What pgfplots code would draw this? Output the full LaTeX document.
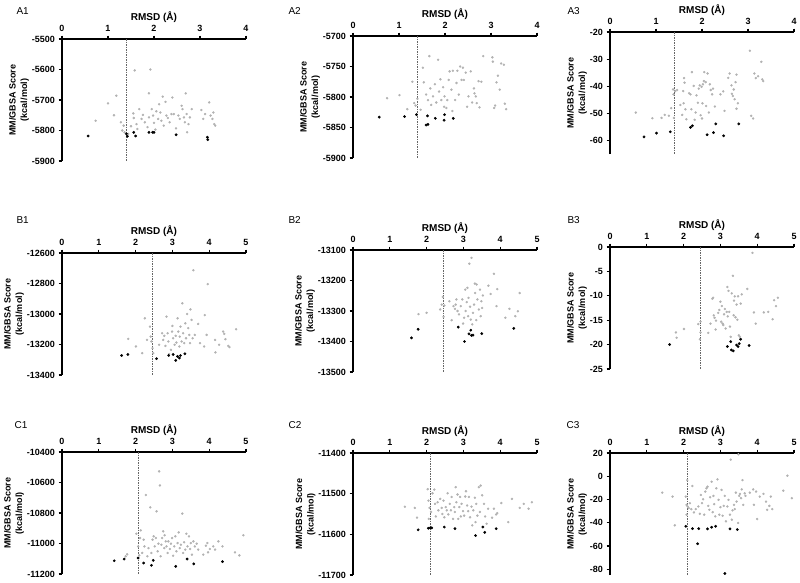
\documentclass[border=0pt]{standalone}
\usepackage{pgfplots}
\pgfplotsset{compat=1.18}
\usepackage{fontspec}
\setmainfont{Liberation Sans}
\pgfplotsset{
  panel/.style={
    scale only axis, width=184pt, height=122pt,
    anchor=north west,
    axis x line*=top, axis y line*=left,
    axis line style={line width=1.2pt, black},
    tick align=outside, major tick length=3.5pt,
    major tick style={line width=1.1pt, black},
    ticklabel style={font=\bfseries\fontsize{9}{10}\selectfont},
    /pgf/number format/assume math mode=true,
    /pgf/number format/1000 sep={},
    scaled ticks=false,
    xmin=0,
    xlabel={RMSD (Å)},
    ylabel={MM/GBSA Score\\(kcal/mol)},
    every axis x label/.style={at={(axis description cs:0.5,1)}, anchor=base, yshift=19pt, font=\bfseries\fontsize{10}{12}\selectfont},
    ylabel style={align=center, font=\bfseries\fontsize{9}{11.5}\selectfont, yshift=-4pt},
    clip=false,
  },
  gp/.style={only marks, mark=*, mark size=1pt, color=black!30},
  bp/.style={only marks, mark=*, mark size=1.2pt, color=black},
  refl/.style={dash pattern=on 1.5pt off 1pt, color=black!60, line width=0.5pt, no marks},
}
\begin{document}
\begin{tikzpicture}
\useasboundingbox (0,0) rectangle (800pt,-582pt);
\tikzset{lab/.style={anchor=west, font=\fontsize{10}{12}\selectfont}}
\node[lab] at (13pt,-11pt) {A1};
\node[lab] at (285pt,-11pt) {A2};
\node[lab] at (564pt,-11pt) {A3};
\node[lab] at (13pt,-220pt) {B1};
\node[lab] at (285pt,-220pt) {B2};
\node[lab] at (564pt,-220pt) {B3};
\node[lab] at (11pt,-425pt) {C1};
\node[lab] at (285pt,-425pt) {C2};
\node[lab] at (563pt,-425pt) {C3};

% A1
\begin{axis}[panel, at={(62pt,-39pt)}, xmax=4, xtick={0,1,2,3,4}, ymin=-5900, ymax=-5500, ytick={-5900,-5800,-5700,-5600,-5500}]
\addplot[refl] coordinates {(1.4,-5500) (1.4,-5900)};
\addplot[gp] coordinates {(0.73,-5768) (1.00,-5711) (1.13,-5750) (1.18,-5686) (1.28,-5773) (1.34,-5784) (1.31,-5800) (1.36,-5806) (1.44,-5811) (1.50,-5786) (1.55,-5744) (1.56,-5759) (1.58,-5603) (1.62,-5779) (1.64,-5795) (1.68,-5730) (1.73,-5762) (1.76,-5749) (1.80,-5773) (1.86,-5789) (1.89,-5678) (1.92,-5600) (1.89,-5757) (1.95,-5730) (1.98,-5751) (2.00,-5775) (2.03,-5797) (2.05,-5737) (2.09,-5762) (2.11,-5714) (2.14,-5741) (2.16,-5768) (2.19,-5689) (2.21,-5784) (2.25,-5706) (2.27,-5751) (2.30,-5759) (2.34,-5773) (2.38,-5746) (2.40,-5692) (2.43,-5746) (2.48,-5793) (2.53,-5751) (2.56,-5762) (2.60,-5719) (2.62,-5730) (2.65,-5757) (2.67,-5773) (2.69,-5678) (2.71,-5746) (2.72,-5806) (2.75,-5779) (2.78,-5757) (2.82,-5730) (3.03,-5733) (3.07,-5762) (3.11,-5746) (3.20,-5708) (3.23,-5751) (3.27,-5762) (3.29,-5741) (3.31,-5779) (3.33,-5784)};
\addplot[bp] coordinates {(0.57,-5818) (1.40,-5811) (1.42,-5819) (1.56,-5806) (1.60,-5818) (1.89,-5806) (1.97,-5806) (2.00,-5806) (2.48,-5814) (3.16,-5822) (3.17,-5830)};
\end{axis}

% A2
\begin{axis}[panel, at={(353pt,-36pt)}, xmax=4, xtick={0,1,2,3,4}, ymin=-5900, ymax=-5700, ytick={-5900,-5850,-5800,-5750,-5700}]
\addplot[refl] coordinates {(1.4,-5700) (1.4,-5900)};
\addplot[gp] coordinates {(0.74,-5802) (1.01,-5797) (1.18,-5820) (1.29,-5775) (1.33,-5810) (1.36,-5814) (1.40,-5803) (1.47,-5821) (1.52,-5752) (1.54,-5776) (1.59,-5796) (1.63,-5805) (1.66,-5733) (1.68,-5786) (1.70,-5813) (1.74,-5799) (1.78,-5779) (1.81,-5809) (1.85,-5739) (1.87,-5791) (1.90,-5771) (1.92,-5805) (1.96,-5784) (1.98,-5816) (1.99,-5799) (2.03,-5818) (2.05,-5805) (2.08,-5772) (2.10,-5758) (2.14,-5788) (2.16,-5823) (2.17,-5757) (2.22,-5805) (2.25,-5777) (2.27,-5757) (2.30,-5796) (2.33,-5750) (2.36,-5772) (2.39,-5752) (2.41,-5772) (2.45,-5760) (2.48,-5816) (2.51,-5799) (2.56,-5758) (2.59,-5809) (2.63,-5786) (2.64,-5794) (2.67,-5799) (2.69,-5810) (2.73,-5774) (2.75,-5817) (2.79,-5775) (2.83,-5733) (3.03,-5735) (3.04,-5742) (3.07,-5818) (3.09,-5814) (3.12,-5776) (3.15,-5765) (3.19,-5788) (3.22,-5745) (3.28,-5747) (3.30,-5811) (3.33,-5820)};
\addplot[bp] coordinates {(0.57,-5833) (1.12,-5832) (1.38,-5829) (1.62,-5831) (1.59,-5846) (1.63,-5845) (1.79,-5835) (1.98,-5838) (1.99,-5829) (2.18,-5835)};
\end{axis}

% A3
\begin{axis}[panel, at={(610pt,-32pt)}, xmax=4, xtick={0,1,2,3,4}, ymin=-65, ymax=-20, ytick={-60,-50,-40,-30,-20}]
\addplot[refl] coordinates {(1.4,-20) (1.4,-65)};
\addplot[gp] coordinates {(0.56,-49.7) (0.92,-51.8) (1.12,-51.7) (1.19,-50.6) (1.28,-50.9) (1.33,-48.1) (1.37,-41.2) (1.38,-43.0) (1.42,-41.8) (1.39,-51.7) (1.46,-41.4) (1.53,-46.9) (1.57,-50.6) (1.59,-41.8) (1.61,-37.0) (1.62,-38.7) (1.60,-46.3) (1.64,-48.5) (1.66,-52.2) (1.72,-42.6) (1.75,-43.0) (1.78,-34.8) (1.77,-48.5) (1.82,-39.9) (1.84,-52.4) (1.86,-49.7) (1.88,-43.4) (1.91,-46.1) (1.93,-40.9) (1.95,-39.7) (1.97,-50.7) (1.99,-40.2) (2.00,-51.9) (2.01,-46.3) (2.02,-39.3) (2.04,-38.1) (2.05,-34.8) (2.08,-38.5) (2.09,-47.3) (2.12,-35.3) (2.15,-49.7) (2.17,-39.3) (2.19,-41.4) (2.22,-43.0) (2.24,-40.9) (2.28,-47.5) (2.40,-43.0) (2.46,-41.9) (2.49,-49.1) (2.57,-36.9) (2.60,-35.3) (2.64,-39.7) (2.65,-42.8) (2.67,-43.6) (2.69,-41.2) (2.71,-44.8) (2.73,-38.5) (2.75,-48.3) (2.75,-35.7) (2.78,-46.3) (3.04,-26.9) (3.07,-50.9) (3.11,-51.9) (3.14,-35.3) (3.17,-37.0) (3.22,-36.3) (3.29,-31.0) (3.31,-37.5) (3.33,-38.1)};
\addplot[bp] coordinates {(0.74,-58.7) (1.01,-57.3) (1.31,-56.8) (1.75,-55.2) (1.79,-54.6) (2.11,-57.9) (2.25,-57.1) (2.30,-53.9) (2.47,-58.3) (2.80,-53.9)};
\end{axis}

% B1
\begin{axis}[panel, at={(62pt,-253pt)}, xmax=5, xtick={0,1,2,3,4,5}, ymin=-13400, ymax=-12600, ytick={-13400,-13200,-13000,-12800,-12600}]
\addplot[refl] coordinates {(2.44,-12600) (2.44,-13400)};
\addplot[gp] coordinates {(1.80,-13163) (2.01,-13213) (2.18,-13257) (2.25,-13028) (2.31,-13170) (2.39,-13083) (2.41,-13148) (2.43,-13180) (2.46,-13224) (2.48,-13257) (2.64,-13202) (2.72,-13126) (2.75,-13170) (2.78,-13143) (2.81,-13209) (2.84,-13017) (2.87,-13126) (2.89,-13180) (2.91,-13263) (2.96,-13235) (2.99,-13115) (3.00,-13078) (3.02,-13159) (3.06,-13202) (3.09,-13143) (3.11,-13187) (3.14,-13028) (3.16,-13115) (3.19,-13213) (3.20,-13148) (3.22,-13083) (3.25,-13180) (3.27,-12930) (3.29,-13126) (3.32,-13191) (3.35,-13061) (3.37,-13159) (3.40,-13000) (3.43,-13093) (3.46,-13137) (3.48,-13191) (3.49,-12970) (3.52,-13039) (3.55,-13159) (3.57,-12713) (3.61,-13137) (3.70,-13065) (3.75,-13191) (3.86,-13213) (3.88,-13007) (3.93,-13137) (3.96,-12804) (4.16,-13170) (4.17,-13252) (4.27,-13202) (4.38,-13115) (4.41,-13130) (4.44,-13165) (4.52,-13209) (4.55,-13217) (4.73,-13100)};
\addplot[bp] coordinates {(1.62,-13272) (1.79,-13265) (2.57,-13293) (2.90,-13272) (3.02,-13265) (3.09,-13304) (3.14,-13278) (3.19,-13289) (3.22,-13272) (3.34,-13261)};
\end{axis}

% B2
\begin{axis}[panel, at={(353pt,-250pt)}, xmax=5, xtick={0,1,2,3,4,5}, ymin=-13500, ymax=-13100, ytick={-13500,-13400,-13300,-13200,-13100}]
\addplot[refl] coordinates {(2.45,-13100) (2.45,-13500)};
\addplot[gp] coordinates {(1.78,-13310) (2.00,-13306) (2.37,-13295) (2.41,-13279) (2.44,-13254) (2.46,-13319) (2.48,-13282) (2.62,-13268) (2.68,-13330) (2.73,-13284) (2.77,-13293) (2.79,-13279) (2.81,-13262) (2.84,-13300) (2.88,-13311) (2.93,-13284) (2.97,-13262) (2.99,-13341) (3.02,-13322) (3.05,-13230) (3.06,-13300) (3.09,-13271) (3.11,-13224) (3.13,-13317) (3.14,-13257) (3.16,-13145) (3.18,-13286) (3.20,-13328) (3.22,-13126) (3.24,-13344) (3.26,-13306) (3.29,-13279) (3.31,-13210) (3.32,-13241) (3.35,-13330) (3.36,-13213) (3.38,-13262) (3.42,-13295) (3.45,-13230) (3.47,-13317) (3.49,-13268) (3.51,-13290) (3.53,-13249) (3.68,-13217) (3.74,-13244) (3.83,-13178) (3.92,-13228) (3.90,-13284) (4.14,-13322) (4.25,-13293) (4.41,-13317) (4.48,-13301) (4.53,-13241)};
\addplot[bp] coordinates {(1.59,-13388) (1.77,-13360) (2.86,-13353) (3.03,-13400) (3.15,-13375) (3.20,-13363) (3.22,-13380) (3.26,-13379) (3.50,-13374) (4.37,-13357)};
\end{axis}

% B3
\begin{axis}[panel, at={(610pt,-247pt)}, xmax=5, xtick={0,1,2,3,4,5}, ymin=-25, ymax=0, ytick={-25,-20,-15,-10,-5,0}]
\addplot[refl] coordinates {(2.46,0) (2.46,-25)};
\addplot[gp] coordinates {(1.79,-17.5) (1.81,-18.6) (2.01,-16.8) (2.40,-15.8) (2.46,-15.3) (2.46,-17.5) (2.44,-18.9) (2.67,-17.6) (2.73,-15.7) (2.78,-10.6) (2.80,-10.4) (2.82,-14.0) (2.84,-14.5) (2.88,-15.1) (2.87,-16.9) (2.94,-13.5) (2.97,-12.9) (3.00,-11.2) (3.02,-15.3) (3.04,-12.1) (3.06,-15.7) (3.08,-16.0) (3.10,-13.8) (3.12,-12.7) (3.14,-16.7) (3.17,-13.3) (3.19,-8.2) (3.20,-14.2) (3.22,-9.0) (3.24,-13.3) (3.26,-16.3) (3.28,-18.4) (3.31,-9.5) (3.34,-5.9) (3.36,-14.0) (3.37,-11.0) (3.39,-10.1) (3.41,-14.4) (3.44,-11.8) (3.46,-14.9) (3.48,-10.1) (3.50,-18.1) (3.53,-18.4) (3.55,-11.6) (3.58,-9.7) (3.73,-8.6) (3.91,-13.4) (3.96,-15.7) (3.87,-1.2) (4.18,-13.4) (4.30,-13.3) (4.42,-14.8) (4.46,-10.9) (4.51,-12.1) (4.56,-10.4)};
\addplot[bp] coordinates {(1.62,-20.0) (3.19,-20.4) (3.28,-19.4) (3.30,-21.1) (3.35,-21.3) (3.44,-20.1) (3.48,-20.4) (3.51,-19.8) (3.55,-18.9) (3.78,-20.2)};
\end{axis}

% C1
\begin{axis}[panel, at={(62pt,-452pt)}, xmax=5, xtick={0,1,2,3,4,5}, ymin=-11200, ymax=-10400, ytick={-11200,-11000,-10800,-10600,-10400}]
\addplot[refl] coordinates {(2.08,-10400) (2.08,-11200)};
\addplot[gp] coordinates {(1.73,-11084) (1.77,-11071) (2.02,-10936) (2.07,-11019) (2.10,-11078) (2.12,-10964) (2.14,-10914) (2.18,-11062) (2.22,-10975) (2.24,-11019) (2.28,-10682) (2.32,-11084) (2.35,-11030) (2.40,-10763) (2.43,-11062) (2.46,-10975) (2.49,-10953) (2.52,-11019) (2.55,-10964) (2.57,-10789) (2.60,-11051) (2.62,-11001) (2.64,-10527) (2.66,-10619) (2.68,-11084) (2.70,-11008) (2.72,-10964) (2.75,-10920) (2.78,-11030) (2.79,-10946) (2.82,-10986) (2.84,-11019) (2.87,-11062) (2.89,-10986) (2.93,-11036) (2.96,-11001) (2.99,-10964) (3.02,-11080) (3.05,-11019) (3.08,-10953) (3.11,-11051) (3.14,-10997) (3.17,-10927) (3.20,-11030) (3.23,-11008) (3.27,-10804) (3.29,-11062) (3.32,-10992) (3.35,-11040) (3.38,-10936) (3.41,-11019) (3.45,-10953) (3.48,-11036) (3.50,-10997) (3.53,-11073) (3.57,-10986) (3.61,-11019) (3.66,-11001) (3.70,-11040) (3.84,-11073) (3.91,-11014) (3.95,-10997) (3.97,-11058) (4.02,-11036) (4.11,-11019) (4.16,-11040) (4.25,-10986) (4.36,-11019) (4.70,-11058) (4.82,-11078) (4.93,-10946)};
\addplot[bp] coordinates {(1.42,-11113) (1.69,-11102) (2.07,-11095) (2.22,-11128) (2.43,-11143) (2.48,-11110) (3.09,-11150) (3.40,-11102) (3.58,-11134) (4.36,-11119)};
\end{axis}

% C2
\begin{axis}[panel, at={(353pt,-453pt)}, xmax=5, xtick={0,1,2,3,4,5}, ymin=-11700, ymax=-11400, ytick={-11700,-11600,-11500,-11400}]
\addplot[refl] coordinates {(2.09,-11400) (2.09,-11700)};
\addplot[gp] coordinates {(1.41,-11532) (1.68,-11535) (1.74,-11559) (2.03,-11489) (2.05,-11517) (2.06,-11562) (2.08,-11535) (2.12,-11545) (2.16,-11499) (2.21,-11490) (2.23,-11525) (2.25,-11556) (2.30,-11521) (2.32,-11541) (2.37,-11513) (2.41,-11535) (2.43,-11550) (2.46,-11517) (2.48,-11558) (2.52,-11533) (2.55,-11541) (2.57,-11499) (2.59,-11551) (2.63,-11525) (2.66,-11541) (2.68,-11508) (2.72,-11562) (2.75,-11533) (2.77,-11545) (2.79,-11484) (2.81,-11521) (2.84,-11502) (2.86,-11562) (2.89,-11533) (2.91,-11508) (2.93,-11556) (2.95,-11525) (2.99,-11543) (3.02,-11554) (3.05,-11507) (3.07,-11494) (3.10,-11529) (3.13,-11543) (3.15,-11508) (3.18,-11558) (3.22,-11532) (3.24,-11578) (3.27,-11541) (3.31,-11510) (3.33,-11570) (3.35,-11525) (3.38,-11554) (3.42,-11484) (3.47,-11480) (3.45,-11545) (3.51,-11504) (3.56,-11525) (3.59,-11556) (3.63,-11574) (3.67,-11537) (3.78,-11559) (3.83,-11537) (3.89,-11551) (3.92,-11548) (4.03,-11523) (4.22,-11570) (4.32,-11513) (4.53,-11535) (4.64,-11525) (4.77,-11537) (4.86,-11521)};
\addplot[bp] coordinates {(1.77,-11589) (2.05,-11585) (2.10,-11584) (2.14,-11584) (2.48,-11582) (2.77,-11586) (3.33,-11603) (3.53,-11582) (3.58,-11595) (3.89,-11586)};
\end{axis}

% C3
\begin{axis}[panel, at={(610pt,-453pt)}, xmax=5, xtick={0,1,2,3,4,5}, ymin=-85, ymax=20, ytick={-80,-60,-40,-20,0,20}]
\addplot[refl] coordinates {(2.10,20) (2.10,-85)};
\addplot[gp] coordinates {(1.42,-14.1) (1.70,-17.5) (1.76,-42.2) (2.06,-17.5) (2.08,-24.6) (2.08,-33.1) (2.10,-3.3) (2.11,-26.0) (2.14,-27.4) (2.17,-23.2) (2.21,-28.3) (2.24,-8.4) (2.28,-31.1) (2.33,-28.3) (2.40,-26.0) (2.44,-32.3) (2.47,-16.1) (2.50,-23.2) (2.53,-19.8) (2.56,-33.1) (2.59,-13.2) (2.62,-10.4) (2.65,-9.0) (2.67,-25.5) (2.70,-28.9) (2.72,-18.1) (2.76,-4.7) (2.79,-30.9) (2.81,-16.9) (2.83,-24.0) (2.86,-34.5) (2.89,-10.4) (2.92,-2.7) (2.95,-20.3) (2.97,-33.1) (3.00,-26.6) (3.03,-11.8) (3.06,-34.0) (3.09,-25.5) (3.12,-16.9) (3.15,-38.8) (3.19,-26.0) (3.22,-20.3) (3.26,-33.1) (3.28,14.3) (3.31,-37.4) (3.33,-29.4) (3.37,-24.6) (3.39,-28.3) (3.42,-14.1) (3.44,-21.8) (3.48,-40.2) (3.49,18.9) (3.51,-16.9) (3.53,-15.2) (3.56,-18.9) (3.58,-11.3) (3.60,-3.3) (3.62,-24.6) (3.66,-14.7) (3.68,-16.9) (3.80,-14.1) (3.89,-11.3) (3.91,-24.6) (3.97,-13.2) (4.00,-36.8) (4.07,-17.5) (4.17,-15.2) (4.24,-21.8) (4.27,-28.9) (4.33,-25.5) (4.37,-17.5) (4.41,-28.3) (4.71,-12.4) (4.82,0.5) (4.94,-18.9)};
\addplot[bp] coordinates {(2.06,-43.1) (2.24,-45.1) (2.41,-45.1) (2.38,-58.1) (2.65,-45.3) (2.76,-43.9) (2.87,-43.1) (3.26,-45.3) (3.46,-45.9) (3.12,-83.7)};
\end{axis}
\end{tikzpicture}
\end{document}
